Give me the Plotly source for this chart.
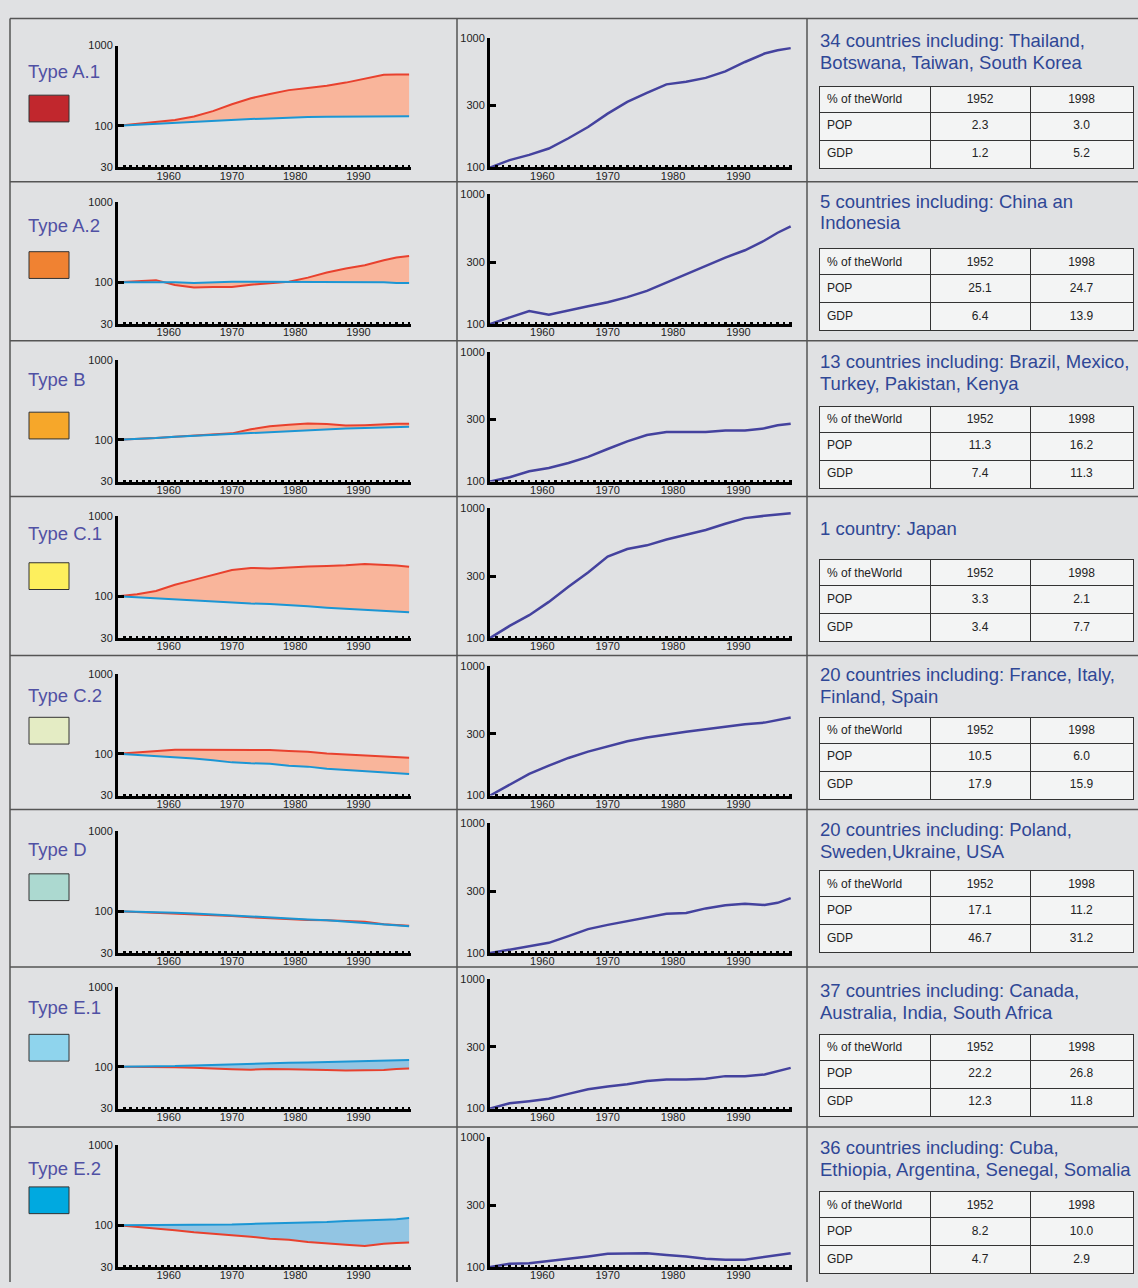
import math
import plotly.graph_objects as go

# ---------------- data ----------------
YEARS = [1952, 1955, 1958, 1961, 1964, 1967, 1970, 1973, 1976, 1979, 1982, 1985, 1988, 1991, 1994, 1996, 1998]

TYPE_LABELS = ["Type A.1", "Type A.2", "Type B", "Type C.1", "Type C.2", "Type D", "Type E.1", "Type E.2"]

# left charts: red line (relative GDP index) and blue line (relative population index), 1952 = 100
RED_A1 = [100, 105, 110, 118, 130, 152, 185, 220, 248, 278, 295, 315, 345, 390, 432, 437, 437]
BLUE_A1 = [100, 103, 106, 109, 112, 115, 118, 121, 123, 126, 128, 129, 130, 130, 131, 131, 131]
RED_A2 = [100, 102, 106, 92, 86, 87, 87, 93, 97, 101, 114, 132, 148, 163, 188, 203, 213]
BLUE_A2 = [100, 100, 102, 100, 98, 100, 101, 101, 101, 101, 101, 101, 100, 100, 100, 98, 98]
RED_B = [100, 102, 105, 109, 112, 115, 120, 135, 147, 154, 159, 157, 150, 152, 157, 158, 158]
BLUE_B = [100, 102, 105, 109, 112, 114, 117, 122, 125, 128, 131, 135, 138, 140, 142, 144, 145]
RED_C1 = [100, 106, 116, 139, 160, 183, 213, 226, 222, 228, 236, 239, 243, 253, 247, 242, 234]
BLUE_C1 = [100, 97, 94, 91, 88, 85, 83, 81, 80, 78, 75, 72, 70, 68, 66, 64, 63]
RED_C2 = [100, 104, 108, 112, 112, 112, 112, 112, 111, 108, 106, 101, 98, 96, 92, 90, 89]
BLUE_C2 = [100, 97, 94, 90, 87, 83, 78, 76, 75, 71, 69, 65, 63, 61, 59, 57, 56]
RED_D = [100, 98, 96, 93, 91, 90, 87, 84, 82, 79, 78, 77, 76, 74, 69, 67, 66]
BLUE_D = [100, 99, 97, 96, 94, 91, 88, 86, 83, 81, 79, 77, 74, 71, 68, 66, 65]
RED_E1 = [100, 100, 100, 99, 97, 94, 93, 92, 94, 93, 93, 91, 90, 90, 91, 94, 95]
BLUE_E1 = [100, 100, 101, 102, 104, 106, 108, 110, 111, 112, 113, 115, 117, 119, 121, 122, 122]
RED_E2 = [100, 96, 91, 87, 82, 79, 76, 72, 68, 66, 62, 59, 57, 55, 59, 60, 61]
BLUE_E2 = [100, 100, 100, 101, 102, 102, 102, 104, 105, 107, 108, 110, 113, 114, 117, 119, 123]

# middle charts: GDP per capita index, 1952 = 100
GDPPC_A1 = [100, 114, 125, 140, 168, 205, 260, 320, 375, 437, 458, 490, 550, 650, 755, 800, 831]
GDPPC_A2 = [100, 113, 126, 118, 128, 137, 147, 161, 180, 208, 242, 280, 325, 370, 440, 505, 565]
GDPPC_B = [100, 108, 120, 127, 139, 155, 178, 204, 228, 241, 241, 241, 247, 247, 257, 271, 279]
GDPPC_C1 = [100, 124, 150, 190, 248, 320, 425, 485, 518, 575, 625, 680, 760, 840, 875, 895, 917]
GDPPC_C2 = [100, 122, 147, 170, 195, 218, 240, 262, 280, 296, 310, 325, 340, 355, 365, 380, 400]
GDPPC_D = [100, 106, 112, 120, 135, 153, 165, 177, 189, 201, 204, 221, 234, 240, 235, 244, 265]
GDPPC_E1 = [100, 110, 114, 119, 130, 141, 148, 154, 163, 168, 168, 170, 178, 178, 183, 194, 206]
GDPPC_E2 = [100, 106, 107, 111, 116, 121, 127, 128, 128, 124, 121, 116, 114, 114, 120, 124, 128]

TITLES = [
    ["34 countries including: Thailand,", "Botswana, Taiwan, South Korea"],
    ["5 countries including: China an", "Indonesia"],
    ["13 countries including: Brazil, Mexico,", "Turkey, Pakistan, Kenya"],
    ["1 country: Japan"],
    ["20 countries including: France, Italy,", "Finland, Spain"],
    ["20 countries including: Poland,", "Sweden,Ukraine, USA"],
    ["37 countries including: Canada,", "Australia, India, South Africa"],
    ["36 countries including: Cuba,", "Ethiopia, Argentina, Senegal, Somalia"],
]

TABLE_HEADER = ["% of theWorld", "1952", "1998"]
ROW_NAMES = ["POP", "GDP"]
POP_1952 = ["2.3", "25.1", "11.3", "3.3", "10.5", "17.1", "22.2", "8.2"]
POP_1998 = ["3.0", "24.7", "16.2", "2.1", "6.0", "11.2", "26.8", "10.0"]
GDP_1952 = ["1.2", "6.4", "7.4", "3.4", "17.9", "46.7", "12.3", "4.7"]
GDP_1998 = ["5.2", "13.9", "11.3", "7.7", "15.9", "31.2", "11.8", "2.9"]

LEFT_TICKS = [30, 100, 1000]
MID_TICKS = [100, 300, 1000]
X_TICKS = [1960, 1970, 1980, 1990]

RED_SERIES = [RED_A1, RED_A2, RED_B, RED_C1, RED_C2, RED_D, RED_E1, RED_E2]
BLUE_SERIES = [BLUE_A1, BLUE_A2, BLUE_B, BLUE_C1, BLUE_C2, BLUE_D, BLUE_E1, BLUE_E2]
GDPPC_SERIES = [GDPPC_A1, GDPPC_A2, GDPPC_B, GDPPC_C1, GDPPC_C2, GDPPC_D, GDPPC_E1, GDPPC_E2]

# ---------------- style / layout ----------------
W, H = 1138, 1288
BG = "#e0e1e3"
SWATCH_COLORS = ["#c1272d", "#f08232", "#f6a72a", "#fdef5d", "#e4ecc4", "#acd9d0", "#8fd4ed", "#00a9e0"]
FILL_COLORS = ["#f9b59b"] * 6 + ["#92c5e3"] * 2
RED = "#e8412e"
BLUE = "#1b96d4"
PURPLE = "#44429e"
FONT = "Liberation Sans, Arial, sans-serif"
TICKFONT = dict(family="Liberation Sans Narrow, Arial Narrow, Liberation Sans, Arial", size=11, color="#222")

MID_TOP = [32, 190, 349, 507, 666, 825, 982, 1142]
ROW_LINES = [12.5, 177.5, 338, 495, 655.5, 811, 970, 1131.5]
TYPE_Y = [66, 222, 377, 532, 696, 851, 1011, 1173]
SWATCH_TOP = [90, 248, 410, 562, 718, 876, 1038, 1192]
TITLE_Y = [35, 197, 359, 527, 675, 831, 994, 1152]
TABLE_TOP = [81, 245, 404, 559, 718, 873, 1038, 1197]


def px(x):
    return x / W


def py(y):
    return 1 - y / H


fig = go.Figure()
layout = {}
shapes = []
annotations = []

for i in range(8):
    top = MID_TOP[i]
    nl, nm = 2 * i + 1, 2 * i + 2
    xl = "x" if nl == 1 else f"x{nl}"
    yl = "y" if nl == 1 else f"y{nl}"
    xm, ym = f"x{nm}", f"y{nm}"

    # left chart: blue base, red filled to blue, blue drawn again on top
    fig.add_trace(go.Scatter(x=YEARS, y=BLUE_SERIES[i], mode="lines", line=dict(color=BLUE, width=0),
                             xaxis=xl, yaxis=yl, showlegend=False, hoverinfo="skip"))
    fig.add_trace(go.Scatter(x=YEARS, y=RED_SERIES[i], mode="lines", line=dict(color=RED, width=2),
                             fill="tonexty", fillcolor=FILL_COLORS[i],
                             xaxis=xl, yaxis=yl, showlegend=False, hoverinfo="skip"))
    fig.add_trace(go.Scatter(x=YEARS, y=BLUE_SERIES[i], mode="lines", line=dict(color=BLUE, width=2),
                             xaxis=xl, yaxis=yl, showlegend=False, hoverinfo="skip"))
    # middle chart
    fig.add_trace(go.Scatter(x=YEARS, y=GDPPC_SERIES[i], mode="lines", line=dict(color=PURPLE, width=2.5),
                             xaxis=xm, yaxis=ym, showlegend=False, hoverinfo="skip"))

    xcommon = dict(showline=True, linewidth=3, linecolor="black", showgrid=False, zeroline=False,
                   tickmode="array", tickvals=X_TICKS, ticks="inside", ticklen=2, tickwidth=2.5,
                   tickcolor="black", tickfont=TICKFONT, ticklabelstandoff=-4,
                   minor=dict(dtick=1, tick0=1952, ticks="inside", ticklen=2, tickwidth=2.5, tickcolor="black",
                              showgrid=False))
    ycommon = dict(type="log", showline=True, linewidth=3, linecolor="black", showgrid=False, zeroline=False,
                   tickmode="array", ticks="inside", ticklen=6, tickwidth=3, tickcolor="black",
                   tickfont=TICKFONT)

    layout["xaxis" if nl == 1 else f"xaxis{nl}"] = dict(xcommon, domain=[px(118), px(411)], anchor=yl,
                                                         range=[1952, 1998.3])
    layout["yaxis" if nl == 1 else f"yaxis{nl}"] = dict(ycommon, domain=[py(top + 131), py(top + 8)], anchor=xl,
                                                         range=[math.log10(30), 3], tickvals=LEFT_TICKS,
                                                         ticktext=[str(v) for v in LEFT_TICKS])
    layout[f"xaxis{nm}"] = dict(xcommon, domain=[px(490), px(792)], anchor=ym, range=[1952, 1998.2])
    layout[f"yaxis{nm}"] = dict(ycommon, domain=[py(top + 131), py(top)], anchor=xm,
                                range=[2, 3], tickvals=MID_TICKS, ticktext=[str(v) for v in MID_TICKS])

    # type label and swatch
    annotations.append(dict(text=TYPE_LABELS[i], x=px(26), y=py(TYPE_Y[i]), xref="paper", yref="paper",
                            xanchor="left", yanchor="middle", showarrow=False,
                            font=dict(family=FONT, size=18.5, color="#5050a4")))
    shapes.append(dict(type="rect", xref="paper", yref="paper", x0=px(29), x1=px(69),
                       y0=py(SWATCH_TOP[i] + 27), y1=py(SWATCH_TOP[i]),
                       fillcolor=SWATCH_COLORS[i], line=dict(color="#333", width=1)))

    # right column title, one annotation per line
    for k, line_text in enumerate(TITLES[i]):
        annotations.append(dict(text=line_text, x=px(818), y=py(TITLE_Y[i] + 22 * k), xref="paper", yref="paper",
                                xanchor="left", yanchor="middle", align="left", showarrow=False,
                                font=dict(family=FONT, size=18.5, color="#2f4796")))

    # table
    t0 = TABLE_TOP[i]
    fig.add_trace(go.Table(
        domain=dict(x=[px(819), px(1133)], y=[py(t0 + 88), py(t0)]),
        columnwidth=[111, 100, 103],
        header=dict(values=TABLE_HEADER, height=26, fill_color="#f3f4f4",
                    line=dict(color="#333", width=1), align=["left", "center", "center"],
                    font=dict(family=FONT, size=12, color="#222")),
        cells=dict(values=[ROW_NAMES, [POP_1952[i], GDP_1952[i]], [POP_1998[i], GDP_1998[i]]],
                   height=28, fill_color="#f3f4f4", line=dict(color="#333", width=1),
                   align=["left", "center", "center"],
                   font=dict(family=FONT, size=12, color="#222")),
    ))

# grid lines
GRID = dict(color="#555", width=1.5)
for yline in ROW_LINES:
    shapes.append(dict(type="line", xref="paper", yref="paper", x0=px(10), x1=1, y0=py(yline), y1=py(yline),
                       line=GRID))
for xline in [10, 457, 807]:
    shapes.append(dict(type="line", xref="paper", yref="paper", x0=px(xline), x1=px(xline), y0=py(12.5), y1=0,
                       line=GRID))

fig.update_layout(
    width=W, height=H, margin=dict(l=0, r=0, t=0, b=0),
    paper_bgcolor=BG, plot_bgcolor=BG,
    showlegend=False, hovermode=False,
    shapes=shapes, annotations=annotations,
    **layout,
)

PAGE_FIX = (
    "var de=document.documentElement, b=document.body;"
    "de.style.margin='0';de.style.padding='0';de.style.overflow='hidden';"
    "b.style.margin='0';b.style.padding='0';b.style.overflow='hidden';"
    "b.style.background='#e0e1e3';"
    "var g=document.getElementById('{plot_id}');"
    "g.style.position='fixed';g.style.left='0px';g.style.top='0px';"
)

fig.write_html("out.html", config={"displayModeBar": False, "staticPlot": True}, post_script=PAGE_FIX)
